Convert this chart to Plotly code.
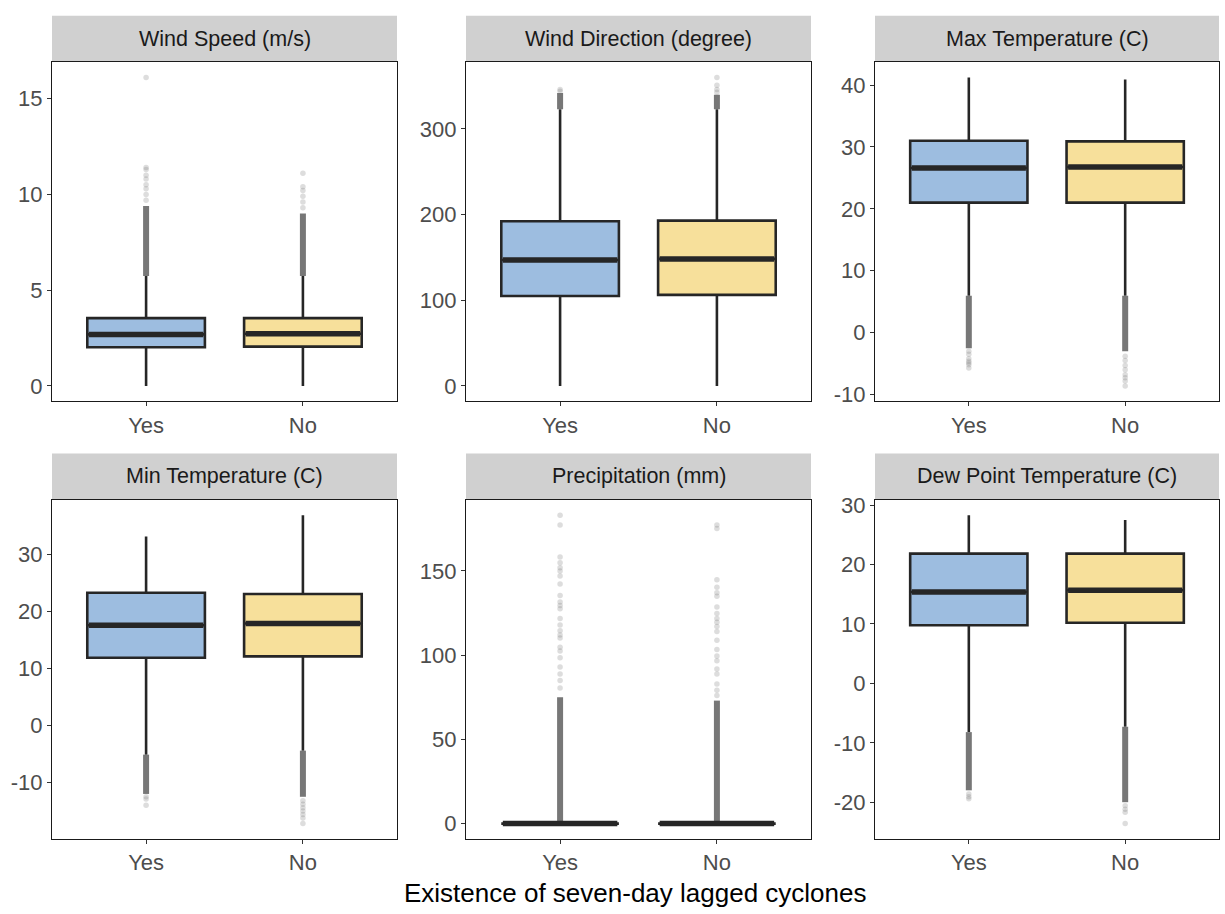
import plotly.graph_objects as go

# ---------------- data ----------------
panel_titles = ["Wind Speed (m/s)", "Wind Direction (degree)", "Max Temperature (C)",
                "Min Temperature (C)", "Precipitation (mm)", "Dew Point Temperature (C)"]
groups = ["Yes", "No"]
group_colors = ["#9DBDE0", "#F7E09B"]

# box stats per panel: [lowerfence, q1, median, q3, upperfence] for Yes, No
yes_stats = [
    [0, 2.02, 2.69, 3.54, 5.74],
    [0, 105, 147, 192.3, 323],
    [5.95, 21.0, 26.6, 31.0, 41.2],
    [-5.1, 11.9, 17.6, 23.3, 33.2],
    [0, 0, 0, 0, 0.5],
    [-8.2, 9.8, 15.4, 21.85, 28.3],
]
no_stats = [
    [0, 2.05, 2.72, 3.54, 5.74],
    [0, 106.3, 148.3, 193, 323],
    [5.95, 21.0, 26.75, 30.9, 40.9],
    [-4.4, 12.15, 17.9, 23.1, 36.9],
    [0, 0, 0, 0, 0.5],
    [-7.3, 10.2, 15.7, 21.85, 27.5],
]
# dense (overplotted) outlier ranges [from, to]
yes_dense = [[5.74, 9.4], [323, 342], [-2.5, 5.95], [-12.0, -5.1], [0.5, 75], [-18.0, -8.2]]
no_dense = [[5.74, 9.0], [323, 340], [-3.0, 5.95], [-12.5, -4.4], [0.5, 73], [-20.0, -7.3]]
# sparse outliers
yes_sparse = [
    [9.7, 10.0, 10.3, 10.5, 10.8, 11.0, 11.3, 11.4, 16.1],
    [344, 346],
    [-3.0, -3.5, -4.2, -4.6, -4.9, -5.2, -5.7],
    [-12.5, -12.9, -14.0],
    [183.0, 177.2, 158.3, 154.8, 151.9, 150.0, 147.0, 142.2, 135.4, 131.5, 129.5, 127.6,
     121.8, 117.9, 114.4, 112.0, 110.1, 104.7, 102.4, 98.5, 93.0, 88.8, 84.9, 80.5],
    [-18.6, -19.1, -19.4],
]
no_sparse = [
    [9.3, 9.6, 9.9, 10.2, 10.4, 11.1],
    [343, 346, 351, 360],
    [-3.8, -4.5, -5.3, -6.0, -6.8, -7.3, -7.8, -8.6],
    [-13.2, -13.8, -14.4, -15.0, -15.6, -16.2, -17.2],
    [177.2, 175.2, 144.7, 140.3, 137.0, 135.0, 128.6, 124.7, 121.8, 119.5, 117.0, 114.0,
     108.8, 103.3, 99.5, 96.6, 91.7, 88.8, 82.9, 79.1, 76.0],
    [-20.6, -21.2, -21.7, -23.6],
]
y_ticks = [
    [0, 5, 10, 15],
    [0, 100, 200, 300],
    [-10, 0, 10, 20, 30, 40],
    [-10, 0, 10, 20, 30],
    [0, 50, 100, 150],
    [-20, -10, 0, 10, 20, 30],
]
x_title = "Existence of seven-day lagged cyclones"

# ---------------- layout geometry ----------------
W, H = 1225, 914
col_px = [(52, 397), (466, 811), (875, 1219)]
row_px = [(56, 400), (500, 844)]
strip_h = 46
box_w = 0.75

fig = go.Figure()
shapes = []
annotations = []
font_fam = "Liberation Sans, Arial, sans-serif"

for i in range(6):
    r, c = divmod(i, 3)
    ax = "" if i == 0 else str(i + 1)
    xref, yref = "x" + ax, "y" + ax
    stats = [yes_stats[i], no_stats[i]]
    dense = [yes_dense[i], no_dense[i]]
    sparse = [yes_sparse[i], no_sparse[i]]

    allv = []
    for g in range(2):
        allv += stats[g] + dense[g] + sparse[g]
    lo, hi = min(allv), max(allv)
    pad = (hi - lo) * 0.05

    for g in range(2):
        xpos = g + 1
        lf, q1, md, q3, uf = stats[g]
        # dense outliers as a thick column
        fig.add_trace(go.Scatter(
            x=[xpos, xpos], y=dense[g], mode="lines",
            line=dict(color="rgba(112,112,112,0.95)", width=6),
            xaxis=xref, yaxis=yref, showlegend=False, hoverinfo="skip"))
        # sparse outliers
        fig.add_trace(go.Scatter(
            x=[xpos] * len(sparse[g]), y=sparse[g], mode="markers",
            marker=dict(color="rgba(120,120,120,0.25)", size=5.5, line=dict(width=0)),
            xaxis=xref, yaxis=yref, showlegend=False, hoverinfo="skip"))
        # box
        fig.add_trace(go.Box(
            x=[xpos], q1=[q1], median=[md], q3=[q3], lowerfence=[lf], upperfence=[uf],
            width=box_w, whiskerwidth=0, fillcolor=group_colors[g],
            line=dict(color="#262626", width=2.6), boxpoints=False,
            xaxis=xref, yaxis=yref, showlegend=False, name=groups[g]))
        # thick median line
        fig.add_trace(go.Scatter(
            x=[xpos - box_w / 2 + 0.01, xpos + box_w / 2 - 0.01], y=[md, md], mode="lines",
            line=dict(color="#262626", width=5.5),
            xaxis=xref, yaxis=yref, showlegend=False, hoverinfo="skip"))

    x0, x1 = col_px[c]
    y0, y1 = row_px[r]
    xdom = [x0 / W, x1 / W]
    ydom = [1 - y1 / H, 1 - y0 / H]
    common = dict(showgrid=False, zeroline=False, showline=True, mirror=True,
                  linecolor="#1a1a1a", linewidth=1.2, ticks="outside", ticklen=4,
                  tickwidth=1.2, tickcolor="#333333",
                  tickfont=dict(family=font_fam, size=22, color="#4D4D4D"))
    fig.update_layout(**{
        "xaxis" + ax: dict(domain=xdom, range=[0.4, 2.6], tickvals=[1, 2], ticktext=groups,
                           anchor=yref, fixedrange=True, **common),
        "yaxis" + ax: dict(domain=ydom, range=[lo - pad, hi + pad], tickvals=y_ticks[i],
                           ticktext=[str(t) for t in y_ticks[i]], anchor=xref, **common),
    })
    # strip
    shapes.append(dict(type="rect", xref="paper", yref="paper",
                       x0=x0 / W, x1=x1 / W, y0=1 - (y0 - 1) / H, y1=1 - (y0 - 1 - strip_h) / H,
                       fillcolor="#D0D0D0", line=dict(width=0), layer="below"))
    annotations.append(dict(text=panel_titles[i], xref="paper", yref="paper",
                            x=(x0 + x1) / 2 / W, y=1 - (y0 - 1 - strip_h / 2) / H,
                            showarrow=False, xanchor="center", yanchor="middle",
                            font=dict(family=font_fam, size=21.5, color="#1A1A1A")))

annotations.append(dict(text=x_title, xref="paper", yref="paper", x=635 / W, y=1 - 899 / H,
                        showarrow=False, xanchor="center", yanchor="middle",
                        font=dict(family=font_fam, size=26, color="#000000")))

fig.update_layout(width=W, height=H, margin=dict(l=0, r=0, t=0, b=0),
                  plot_bgcolor="white", paper_bgcolor="white",
                  shapes=shapes, annotations=annotations, showlegend=False)

fig.write_html("out.html")
